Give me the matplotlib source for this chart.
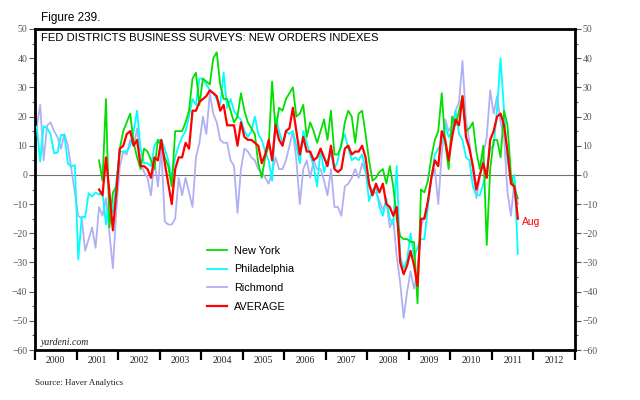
import numpy as np
import matplotlib.pyplot as plt
from matplotlib.ticker import MultipleLocator, FixedLocator, NullFormatter, FixedFormatter

# --- Dados mensais, jan/2000 = mês 0 ---
# Philadelphia e Richmond: jan/2000 a ago/2011
philadelphia = [
    16.5, 4.6, 16.7, 16, 14, 7.4, 7.6, 13.7, 13.7, 3.9, 2.8, 3.4,          # 2000
    -29, -14.3, -14.5, -6.3, -7.4, -6, -6.8, -5.7, -17, -8, -13, -2,       # 2001
    8, 8, 8, 10, 15, 22, 9, 4, 4, 3, 10, 12,                               # 2002
    12, 9, 5, -1, 6, 10, 13, 15, 20, 26, 24, 33,                           # 2003
    33, 31, 29, 28, 26, 24, 35, 23, 26, 22, 20, 19,                        # 2004
    15, 13, 15, 20, 14, 12, 8, 5, -2, 20, 15, 11,                          # 2005
    15, 14, 15, 10, 4, 15, 11, 7, 3, -4, 9, 1,                             # 2006
    5, 7, 2, 5, 11, 14, 9, 5, 6, 5, 7, 2,                                  # 2007
    -9, -5, -4, -11, -14, -8, -15, -17, 3, -28, -32, -29,                  # 2008
    -20, -28, -25, -22, -22, -11, -1, 7, 9, 11, 17, 13,                    # 2009
    15, 22, 14, 12, 6, 5, -4, -7, -7, -3, 1, 9,                            # 2010
    10, 23, 40, 22, 5, -2, 0, -27,                                         # 2011
]
richmond = [
    16.5, 24, 5, 17, 18, 15, 13, 9, 14, 10, 2, -6,
    -14, -15, -26, -22, -18, -25, -11, -14, -8, -20, -32, -12,
    3, 8, 7, 12, 10, 16, 4, 1, -1, -7, 5, -4,
    9, -16, -17, -17, -15, -1, -7, -1, -6, -11, 6, 11,
    20, 14, 28, 21, 18, 12, 11, 11, 5, 3, -13, 2,
    9, 8, 6, 5, 2, 1, -1, -3, 1, 6, 2, 2,
    5, 10, 15, 5, -10, 2, 5, -1, 5, 2, 2, -2,
    -7, 2, -11, -11, -14, -4, -3, -1, 2, -1, 4, 1,
    -4, -6, -6, -9, -12, -9, -18, -15, -28, -37, -49, -40,
    -33, -39, -33, -18, -14, -10, -1, 2, -10, 7, 19, 15,
    17, 22, 25, 39, 19, 11, 2, -8, -1, 7, 13, 29,
    21, 27, 18, 13, -6, -14, -2, -10,
]
# New York e média: jul/2001 (mês 18) a ago/2011
inicio_ny = 18
new_york = [
    5, -2, 26, -18, -6, -4,
    9, 15, 18, 21, 11, 6, 2, 9, 8, 5, 2, 12,
    10, 6, 3, -4, 15, 15, 15, 18, 22, 33, 35, 24,
    33, 32, 31, 40, 42, 31, 26, 26, 22, 18, 20, 28,
    22, 18, 16, 14, 4, -1, 6, 10, 32, 15, 23, 22,
    26, 28, 30, 20, 21, 24, 13, 18, 15, 11, 15, 19,
    12, 22, 7, 7, 10, 18, 22, 20, 11, 21, 22, 14,
    5, -2, -1, 1, 2, -3, 3, -4, -15, -21, -22, -22,
    -23, -23, -44, -5, -6, -2, 6, 12, 15, 28, 11, 2,
    20, 17, 22, 27, 15, 16, 18, 8, 2, 10, -24, 2,
    12, 12, 6, 22, 17, 0, -5, -8,
]
media = [
    -5, -7, 6, -6, -19, -6,
    9, 10, 14, 15, 10, 12, 3, 3, 2, -1, 6, 5,
    12, 4, -3, -10, 2, 6, 6, 11, 9, 22, 22, 25,
    26, 27, 29, 28, 27, 22, 24, 17, 17, 17, 10, 18,
    13, 12, 12, 11, 10, 4, 7, 12, 5, 17, 12, 10,
    15, 16, 23, 15, 7, 13, 8, 8, 5, 6, 9, 6,
    3, 10, 2, 1, 2, 9, 10, 7, 8, 8, 10, 6,
    -3, -7, -3, -6, -3, -10, -11, -14, -11, -30, -34, -31,
    -26, -31, -38, -15, -15, -9, -1, 5, 3, 15, 12, 5,
    13, 19, 17, 27, 13, 9, 3, -5, 0, 4, -1, 12,
    15, 20, 21, 17, 8, -3, -4, -15,
]

anos = list(range(2000, 2013))


def posicoes(n, inicio=0):
    # meio de cada mês, em anos fracionários
    return 2000 + (inicio + np.arange(n) + 0.5) / 12


sans = ['Liberation Sans', 'DejaVu Sans']
serif = ['Liberation Serif', 'DejaVu Serif']

fig = plt.figure(figsize=(6.4, 4), dpi=100)
ax = fig.add_axes([35 / 640, 50 / 400, 540 / 640, 321 / 400])

ax.axhline(0, color='#707070', linewidth=0.8, zorder=1)

ax.plot(posicoes(len(richmond)), richmond, color='#b0b0f4', lw=1.3, label='Richmond', zorder=2)
ax.plot(posicoes(len(philadelphia)), philadelphia, color='#00ffff', lw=1.3, label='Philadelphia', zorder=3)
ax.plot(posicoes(len(new_york), inicio_ny), new_york, color='#00e000', lw=1.3, label='New York', zorder=4)
x_media = posicoes(len(media), inicio_ny)
ax.plot(x_media, media, color='#ff0000', lw=1.6, label='AVERAGE', zorder=5)

ax.text(x_media[-1] + 0.1, media[-1] - 1, 'Aug', color='#ff0000', fontsize=7.5,
        family=sans, va='center', ha='left')

ax.set_xlim(2000, 2013)
ax.set_ylim(-60, 50)

# eixo y: rótulos dos dois lados
ax.yaxis.set_major_locator(MultipleLocator(10))
ax.yaxis.set_minor_locator(MultipleLocator(5))
ax.tick_params(axis='y', which='both', left=True, right=True, labelleft=True, labelright=True,
               direction='out', colors='#555555', labelsize=7, pad=1.5)
ax.tick_params(axis='y', which='major', length=4, width=0.8)
ax.tick_params(axis='y', which='minor', length=2.5, width=0.8)
for lbl in ax.get_yticklabels():
    lbl.set_family(serif)

# eixo x: marcas nos limites dos anos, rótulos no meio
ax.xaxis.set_major_locator(FixedLocator(anos + [2013]))
ax.xaxis.set_major_formatter(NullFormatter())
ax.xaxis.set_minor_locator(FixedLocator([a + 0.5 for a in anos]))
ax.xaxis.set_minor_formatter(FixedFormatter([str(a) for a in anos]))
ax.tick_params(axis='x', which='major', length=7, width=1.6, direction='out', color='black')
ax.tick_params(axis='x', which='minor', length=0, labelsize=7, pad=4, labelcolor='#222222')
for lbl in ax.get_xticklabels(minor=True):
    lbl.set_family(serif)

for s in ax.spines.values():
    s.set_linewidth(2)
    s.set_color('black')

ax.text(0.012, 0.988, 'FED DISTRICTS BUSINESS SURVEYS: NEW ORDERS INDEXES', transform=ax.transAxes,
        fontsize=8.1, family=sans, va='top', ha='left')
ax.text(0.01, 0.008, 'yardeni.com', transform=ax.transAxes, fontsize=7, family=serif,
        style='italic', va='bottom', ha='left', color='#222222')

handles, labels = ax.get_legend_handles_labels()
ordem = [labels.index(n) for n in ['New York', 'Philadelphia', 'Richmond', 'AVERAGE']]
ax.legend([handles[i] for i in ordem], [labels[i] for i in ordem], loc='upper left',
          bbox_to_anchor=(0.318, 0.325), frameon=False, prop={'family': sans, 'size': 7.8},
          handlelength=1.9, handletextpad=0.6, labelspacing=0.8, borderpad=0, borderaxespad=0)

fig.text(41 / 640, 1 - 12 / 400, 'Figure 239.', fontsize=8.5, family=sans, va='top', ha='left')
fig.text(35 / 640, 1 - 383 / 400, 'Source: Haver Analytics', fontsize=6.5, family=serif,
         va='center', ha='left', color='#222222')

fig.savefig('out.png', dpi=100)
